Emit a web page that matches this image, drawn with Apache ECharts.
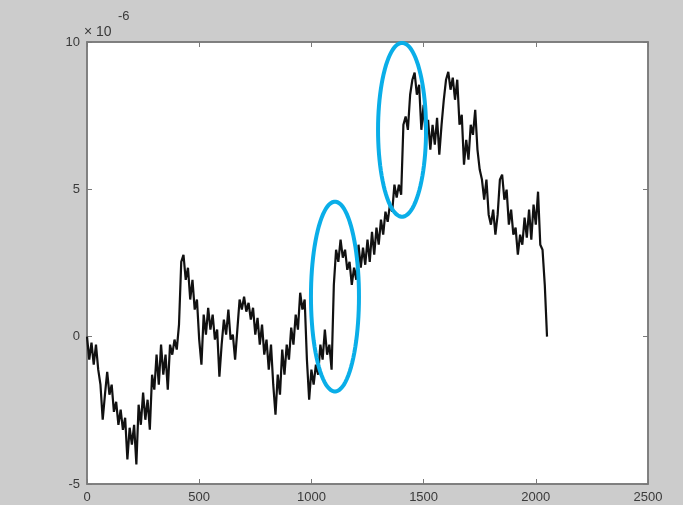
<!DOCTYPE html>
<html>
<head>
<meta charset="utf-8">
<script src="https://cdn.jsdelivr.net/npm/echarts@6/dist/echarts.min.js"></script>
<style>
  html, body { margin: 0; padding: 0; background: #cccccc; }
  #chart { width: 683px; height: 505px; }
</style>
</head>
<body>
<div id="chart"></div>
<script>
// Sample spacing along x (samples are 10 units apart, starting at 0)
const sampleStep = 10;

// Signal values, in units of 1e-6
const signal = [
  0.00, -0.78, -0.20, -0.95, -0.27, -1.12, -1.63, -2.82, -1.97, -1.19,
  -1.97, -1.63, -2.55, -2.21, -2.99, -2.48, -3.16, -2.75, -4.17, -3.09,
  -3.66, -2.99, -4.34, -2.31, -2.99, -1.90, -2.82, -2.14, -3.16, -1.29,
  -1.80, -0.61, -1.63, -0.27, -1.29, -0.61, -1.80, -0.27, -0.61, -0.10,
  -0.44, 0.41, 2.54, 2.78, 1.93, 2.34, 1.26, 1.93, 0.92, 1.26,
  -0.10, -0.95, 0.75, 0.07, 0.98, 0.24, 0.75, -0.10, 0.24, -1.36,
  -0.27, 0.58, 0.07, 0.92, -0.10, 0.07, -0.78, 0.24, 1.26, 0.92,
  1.36, 0.85, 1.15, 0.58, 0.98, 0.07, 0.64, -0.27, 0.41, -0.61,
  -0.10, -1.12, -0.27, -1.63, -2.65, -1.29, -1.97, -0.44, -1.29, -0.27,
  -0.78, 0.31, -0.27, 0.75, 0.24, 1.49, 0.92, 1.26, -0.78, -2.14,
  -1.12, -1.63, -0.95, -1.29, -0.27, -0.78, 0.24, -0.61, -0.27, -1.12,
  1.76, 2.95, 2.54, 3.29, 2.68, 2.95, 2.27, 2.54, 1.76, 2.34,
  1.93, 3.12, 2.34, 3.02, 2.44, 3.29, 2.54, 3.56, 2.78, 3.70,
  3.12, 3.97, 3.46, 4.24, 3.90, 4.48, 4.24, 5.16, 4.72, 5.16,
  4.82, 7.19, 7.47, 7.02, 8.21, 8.72, 8.96, 8.21, 8.55, 7.02,
  7.87, 6.68, 7.36, 6.35, 7.19, 6.52, 7.43, 6.18, 7.19, 8.04,
  8.72, 8.99, 8.38, 8.79, 8.04, 8.72, 7.19, 7.53, 5.84, 6.68,
  6.01, 7.19, 6.85, 7.70, 6.35, 5.67, 5.33, 4.65, 5.33, 4.14,
  3.80, 4.31, 3.46, 4.14, 5.33, 5.50, 4.65, 4.99, 3.80, 4.31,
  3.46, 3.70, 2.78, 3.46, 3.12, 4.04, 3.36, 4.31, 3.29, 4.48,
  3.80, 4.92, 3.12, 2.95, 1.76, 0.00
];

// Axis ticks
const xTicks = [0, 500, 1000, 1500, 2000, 2500];
const yTicks = [-5, 0, 5, 10];
const exponentBase = '\u00d7 10';
const exponentPower = '-6';

// Highlight ellipses: [centerX, centerY, radiusX, radiusY] in data units
const highlightA = [1105, 1.36, 107, 3.22];
const highlightB = [1404, 7.02, 107, 2.95];
const highlights = [highlightA, highlightB];

const lineData = signal.map((v, i) => [i * sampleStep, v]);

const frameColor = '#7a7a7a';
const labelColor = '#3a3a3a';
const fontFamily = 'Liberation Sans, Arial, sans-serif';

const chart = echarts.init(document.getElementById('chart'), null, { renderer: 'canvas' });

const tickStyle = { show: true, inside: true, length: 5, lineStyle: { color: frameColor, width: 1 } };
const plainNumber = v => String(v);

function makeAxis(kind, position, withLabels) {
  const ticks = kind === 'x' ? xTicks : yTicks;
  return {
    type: 'value',
    min: ticks[0], max: ticks[ticks.length - 1],
    interval: ticks[1] - ticks[0],
    position,
    axisLine: { show: true, onZero: false, lineStyle: { color: frameColor, width: 1.5 } },
    axisTick: tickStyle,
    splitLine: { show: false },
    axisLabel: withLabels
      ? { color: labelColor, fontSize: 13, fontFamily, margin: 7, formatter: plainNumber }
      : { show: false }
  };
}

chart.setOption({
  backgroundColor: '#cccccc',
  animation: false,
  grid: {
    left: 87, right: 35, top: 42, bottom: 21,
    show: true, backgroundColor: '#ffffff',
    borderColor: frameColor, borderWidth: 1.5
  },
  xAxis: [makeAxis('x', 'bottom', true), makeAxis('x', 'top', false)],
  yAxis: [makeAxis('y', 'left', true), makeAxis('y', 'right', false)],
  graphic: [{
    type: 'text', left: 84, top: 25,
    style: { text: exponentBase, fill: labelColor, font: '14px ' + fontFamily }
  }, {
    type: 'text', left: 118, top: 10,
    style: { text: exponentPower, fill: labelColor, font: '13px ' + fontFamily }
  }],
  series: [{
    type: 'line',
    data: lineData,
    showSymbol: false,
    symbol: 'none',
    lineStyle: { color: '#111', width: 2.2 },
    z: 2
  }, {
    type: 'custom',
    data: highlights,
    z: 5,
    silent: true,
    renderItem: function (params, api) {
      const cx = api.value(0), cy = api.value(1), rx = api.value(2), ry = api.value(3);
      const pts = [];
      const n = 90;
      for (let k = 0; k < n; k++) {
        const t = (k / n) * Math.PI * 2;
        pts.push(api.coord([cx + rx * Math.cos(t), cy + ry * Math.sin(t)]));
      }
      return {
        type: 'polygon',
        shape: { points: pts },
        style: { fill: 'none', stroke: '#0aaee8', lineWidth: 4 }
      };
    }
  }]
});
</script>
</body>
</html>
